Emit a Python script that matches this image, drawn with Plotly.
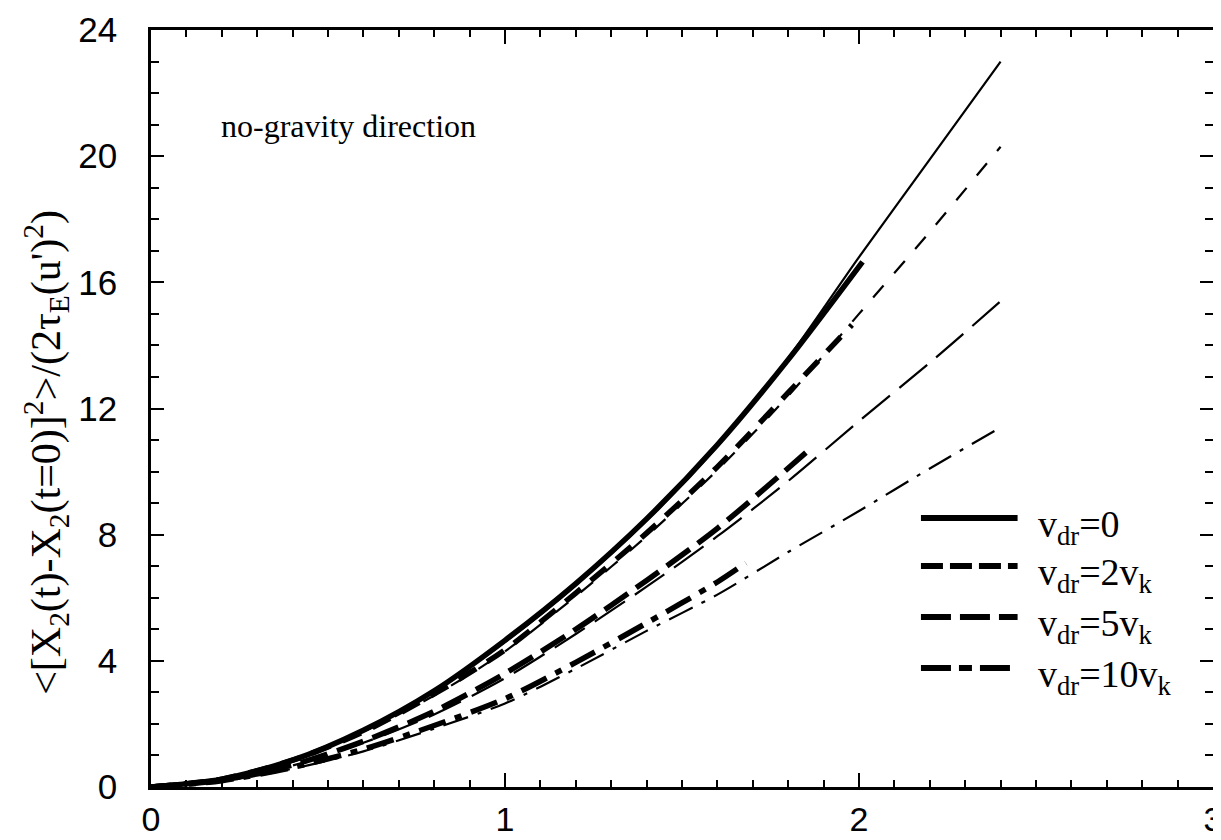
import plotly.graph_objects as go

# ---- data ----
x_thin = [0, 0.2, 0.4, 0.6, 0.8, 1.0, 1.2, 1.4, 1.6, 1.8, 2.0, 2.2, 2.4]
thin_v0 = [0, 0.25, 0.85, 1.8, 3.05, 4.6, 6.4, 8.45, 10.8, 13.6, 16.8, 19.9, 23.0]
thin_v2 = [0, 0.25, 0.85, 1.75, 2.9, 4.3, 6.05, 7.95, 10.05, 12.4, 15.0, 17.6, 20.3]
thin_v5 = [0, 0.2, 0.68, 1.4, 2.3, 3.45, 4.85, 6.35, 7.95, 9.7, 11.6, 13.45, 15.4]
thin_v10 = [0, 0.18, 0.58, 1.13, 1.85, 2.65, 3.75, 4.95, 6.1, 7.45, 8.75, 10.1, 11.4]

x_thick_v0 = [0, 0.2, 0.4, 0.6, 0.8, 1.0, 1.2, 1.4, 1.6, 1.8, 2.01]
thick_v0 = [0, 0.25, 0.85, 1.8, 3.05, 4.65, 6.45, 8.5, 10.85, 13.55, 16.65]
x_thick_v2 = [0, 0.2, 0.4, 0.6, 0.8, 1.0, 1.2, 1.4, 1.6, 1.8, 1.98]
thick_v2 = [0, 0.25, 0.85, 1.75, 2.95, 4.35, 6.15, 8.05, 10.15, 12.5, 14.65]
x_thick_v5 = [0, 0.2, 0.4, 0.6, 0.8, 1.0, 1.2, 1.4, 1.6, 1.85]
thick_v5 = [0, 0.22, 0.7, 1.45, 2.4, 3.6, 5.0, 6.55, 8.2, 10.6]
x_thick_v10 = [0, 0.2, 0.4, 0.6, 0.8, 1.0, 1.2, 1.4, 1.6, 1.68]
thick_v10 = [0, 0.2, 0.62, 1.2, 1.95, 2.8, 3.95, 5.2, 6.5, 7.1]

legend_labels = ["v<sub>dr</sub>=0", "v<sub>dr</sub>=2v<sub>k</sub>",
                 "v<sub>dr</sub>=5v<sub>k</sub>", "v<sub>dr</sub>=10v<sub>k</sub>"]
x_ticks = [0, 1, 2, 3]
y_ticks = [0, 4, 8, 12, 16, 20, 24]
y_title = "&lt;[X<sub>2</sub>(t)-X<sub>2</sub>(t=0)]<sup>2</sup>&gt;/(2τ<sub>E</sub>(u')<sup>2</sup>)"

SERIF = "Liberation Serif, Times New Roman, serif"
SANS = "Liberation Sans, Arial, Helvetica, sans-serif"

thin_dash = ["solid", "16px,16px", "36px,12px", "26px,10px,4px,10px"]
thick_dash = ["solid", "20px,13px", "28px,10px", "28px,10px,7px,10px"]
legend_dash = ["solid", "22px,7px", "30px,9px", "30px,8px,13px,8px"]

fig = go.Figure()

for ys, d in zip([thin_v0, thin_v2, thin_v5, thin_v10], thin_dash):
    fig.add_trace(go.Scatter(x=x_thin, y=ys, mode="lines", showlegend=False,
                             line=dict(color="black", width=2.2, dash=d, shape="spline", smoothing=0.8)))

for xs, ys, d in zip([x_thick_v0, x_thick_v2, x_thick_v5, x_thick_v10],
                     [thick_v0, thick_v2, thick_v5, thick_v10], thick_dash):
    fig.add_trace(go.Scatter(x=xs, y=ys, mode="lines", showlegend=False,
                             line=dict(color="black", width=5.5, dash=d, shape="spline", smoothing=0.8)))

# plot area: top 22 px, bottom 779 px -> height 757
def py(pix):
    return (779 - pix) / 757.0

# manual legend (line samples + labels)
row_pix = [510, 558, 609, 660]
for i, (lab, d) in enumerate(zip(legend_labels, legend_dash)):
    fig.add_shape(type="line", xref="paper", yref="paper",
                  x0=0.725, x1=0.816, y0=py(row_pix[i]), y1=py(row_pix[i]),
                  line=dict(color="black", width=6, dash=d))
    fig.add_annotation(xref="paper", yref="paper", x=0.833, y=py(row_pix[i] + 9),
                       xanchor="left", yanchor="middle", text=lab, showarrow=False,
                       font=dict(family=SERIF, size=38, color="black"))

fig.add_annotation(xref="paper", yref="paper", x=0.064, y=py(118), xanchor="left",
                   yanchor="middle", text="no-gravity direction", showarrow=False,
                   font=dict(family=SERIF, size=32, color="black"))

# y-axis title (rotated)
fig.add_annotation(xref="paper", yref="paper", x=-0.099, y=py(444), xanchor="center",
                   yanchor="middle", text=y_title, showarrow=False, textangle=-90,
                   font=dict(family=SERIF, size=42, color="black"))

axis_common = dict(showgrid=False, zeroline=False, showline=True, linecolor="black",
                   linewidth=2.5, mirror="ticks", ticks="inside", tickcolor="black",
                   tickwidth=2, ticklabeloverflow="allow")

fig.update_xaxes(range=[0, 3], tickvals=x_ticks, ticklen=14,
                 minor=dict(dtick=0.1, ticks="inside", ticklen=7, tickwidth=1.5, tickcolor="black"),
                 ticklabelstandoff=0, tickfont=dict(family=SANS, size=34, color="black"),
                 **axis_common)
fig.update_yaxes(range=[0, 24], tickvals=y_ticks, ticklen=13,
                 minor=dict(dtick=1, ticks="inside", ticklen=8, tickwidth=1.5, tickcolor="black"),
                 ticklabelstandoff=24, tickfont=dict(family=SANS, size=35, color="black"),
                 **axis_common)

fig.update_layout(width=1221, height=840, plot_bgcolor="white", paper_bgcolor="white",
                  margin=dict(l=143, r=16, t=22, b=61, autoexpand=False),
                  showlegend=False)

fig.write_html("out.html")
